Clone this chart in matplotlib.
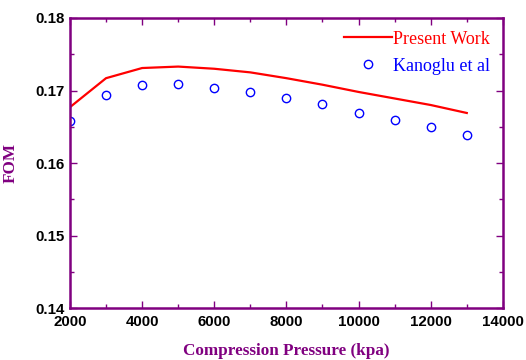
import matplotlib
matplotlib.use("Agg")
import matplotlib.pyplot as plt
from matplotlib.ticker import MultipleLocator

# data
pressure = [2000, 3000, 4000, 5000, 6000, 7000, 8000, 9000, 10000, 11000, 12000, 13000]
fom_present = [0.1677, 0.1717, 0.1731, 0.1733, 0.1730, 0.1725, 0.1717, 0.1708, 0.1698, 0.1689, 0.1680, 0.1669]
fom_kanoglu = [0.1658, 0.1694, 0.1707, 0.1709, 0.1704, 0.1698, 0.1689, 0.1681, 0.1669, 0.1660, 0.1649, 0.1638]

purple = "#800080"

fig = plt.figure(figsize=(5.26, 3.6), dpi=100)
ax = fig.add_axes([0.133, 0.1444, 0.823, 0.8056])

ax.plot(pressure, fom_present, color="red", lw=1.6, label="Present Work")
ax.plot(pressure, fom_kanoglu, ls="none", marker="o", ms=6, mfc="none",
        mec="blue", color="blue", mew=1.0, label="Kanoglu et al")

ax.set_xlim(2000, 14000)
ax.set_ylim(0.14, 0.18)
ax.xaxis.set_major_locator(MultipleLocator(2000))
ax.xaxis.set_minor_locator(MultipleLocator(1000))
ax.yaxis.set_major_locator(MultipleLocator(0.01))
ax.yaxis.set_minor_locator(MultipleLocator(0.005))
ax.yaxis.set_major_formatter(plt.FuncFormatter(lambda v, p: f"{v:.2f}"))

for s in ax.spines.values():
    s.set_color(purple)
    s.set_linewidth(1.8)
ax.tick_params(which="both", direction="in", top=True, right=True, color=purple)
ax.tick_params(which="major", length=5, width=1)
ax.tick_params(which="minor", length=3, width=1)
for lab in ax.get_xticklabels() + ax.get_yticklabels():
    lab.set_fontfamily("Liberation Sans")
    lab.set_fontweight("bold")
    lab.set_fontsize(10.8)
ax.tick_params(axis="x", pad=5)
ax.tick_params(axis="y", pad=4)

ax.set_xlabel("Compression Pressure (kpa)", family="Liberation Serif", fontweight="bold",
              fontsize=12.3, color=purple, labelpad=10)
ax.set_ylabel("FOM", family="Liberation Serif", fontweight="bold",
              fontsize=12.3, color=purple, labelpad=12)

leg = ax.legend(loc="upper right", frameon=False, labelcolor="linecolor",
                prop={"family": "Liberation Serif", "size": 13},
                handlelength=2.7, handletextpad=0.05, borderaxespad=0.2,
                labelspacing=0.55, borderpad=0.5)

fig.savefig("out.png", dpi=100)
